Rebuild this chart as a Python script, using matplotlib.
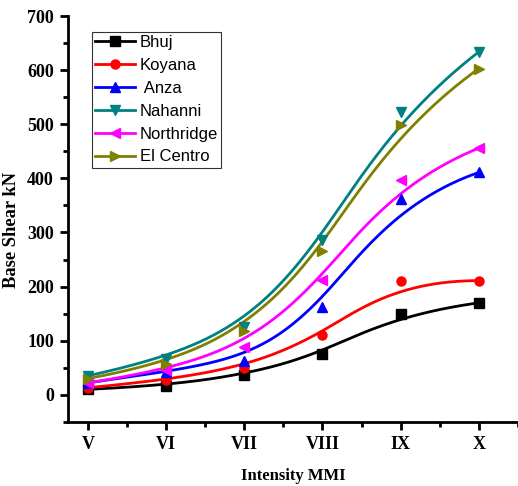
import numpy as np
import matplotlib
matplotlib.use("Agg")
import matplotlib.pyplot as plt
from matplotlib.ticker import MultipleLocator

categories = ["V", "VI", "VII", "VIII", "IX", "X"]
bhuj = [10, 17, 36, 76, 150, 170]
koyana = [13, 27, 50, 110, 211, 211]
anza = [22, 43, 62, 162, 361, 411]
nahanni = [35, 67, 125, 286, 522, 634]
northridge = [22, 45, 88, 212, 397, 456]
el_centro = [30, 57, 118, 266, 499, 603]

series = [
    ("Bhuj", bhuj, "black", "s"),
    ("Koyana", koyana, "red", "o"),
    (" Anza", anza, "blue", "^"),
    ("Nahanni", nahanni, "#008080", "v"),
    ("Northridge", northridge, "magenta", "<"),
    ("El Centro", el_centro, "#808000", ">"),
]


def bspline_basis(n_ctrl, degree, t):
    inner = np.arange(1, n_ctrl - degree)
    knots = np.concatenate([np.zeros(degree + 1), inner,
                            np.full(degree + 1, n_ctrl - degree)]).astype(float)
    t = np.clip(t, 0, knots[-1] - 1e-9)
    N = np.zeros((len(t), len(knots) - 1))
    for i in range(len(knots) - 1):
        N[:, i] = (t >= knots[i]) & (t < knots[i + 1])
    for d in range(1, degree + 1):
        Nn = np.zeros((len(t), len(knots) - 1 - d))
        for i in range(len(knots) - 1 - d):
            a = knots[i + d] - knots[i]
            b = knots[i + d + 1] - knots[i + 1]
            term = np.zeros(len(t))
            if a > 0:
                term += (t - knots[i]) / a * N[:, i]
            if b > 0:
                term += (knots[i + d + 1] - t) / b * N[:, i + 1]
            Nn[:, i] = term
        N = Nn
    return N


fig = plt.figure(figsize=(5.18, 4.86), dpi=100)
ax = fig.add_axes([0.131, 0.132, 0.869, 0.835])

x = np.arange(1, len(categories) + 1, dtype=float)
tt = np.linspace(0, len(categories) - 3, 400)
B = bspline_basis(len(categories), 3, tt)
for name, vals, color, marker in series:
    v = np.asarray(vals, float)
    ax.plot(B @ x, B @ v, color=color, lw=2.0, zorder=2)
    ax.plot(x, v, linestyle="none", marker=marker, color=color, ms=6.5, zorder=3)
    ax.plot([], [], color=color, lw=2.0, marker=marker, ms=6.5, label=name)

ax.set_xlim(0.745, 6.5)
ax.set_ylim(-50, 700)
ax.set_xticks(x)
ax.set_xticklabels(categories)
ax.xaxis.set_minor_locator(MultipleLocator(0.5))
ax.yaxis.set_major_locator(MultipleLocator(100))
ax.yaxis.set_minor_locator(MultipleLocator(50))

for s in ["top", "right"]:
    ax.spines[s].set_visible(False)
for s in ["left", "bottom"]:
    ax.spines[s].set_linewidth(2.0)

ax.tick_params(which="major", direction="out", length=6, width=2, pad=4)
ax.tick_params(which="minor", direction="out", length=3.5, width=2)
for lab in ax.get_xticklabels() + ax.get_yticklabels():
    lab.set_fontfamily("Liberation Serif")
    lab.set_fontweight("bold")
    lab.set_fontsize(13)

ax.set_xlabel("Intensity MMI", fontfamily="Liberation Serif", fontweight="bold",
              fontsize=12, labelpad=11)
ax.set_ylabel("Base Shear kN", fontfamily="Liberation Serif", fontweight="bold",
              fontsize=13.3)
ax.yaxis.set_label_coords(-0.107, 0.473)

leg = ax.legend(loc="upper left", bbox_to_anchor=(0.054, 0.961), frameon=True,
                fancybox=False, edgecolor="black", borderpad=0.2,
                borderaxespad=0.0,
                labelspacing=0.47, handlelength=2.35, handletextpad=0.3,
                prop={"family": "Liberation Sans", "size": 12})
leg.get_frame().set_linewidth(0.8)

fig.savefig("out.png", dpi=100, facecolor="white")
